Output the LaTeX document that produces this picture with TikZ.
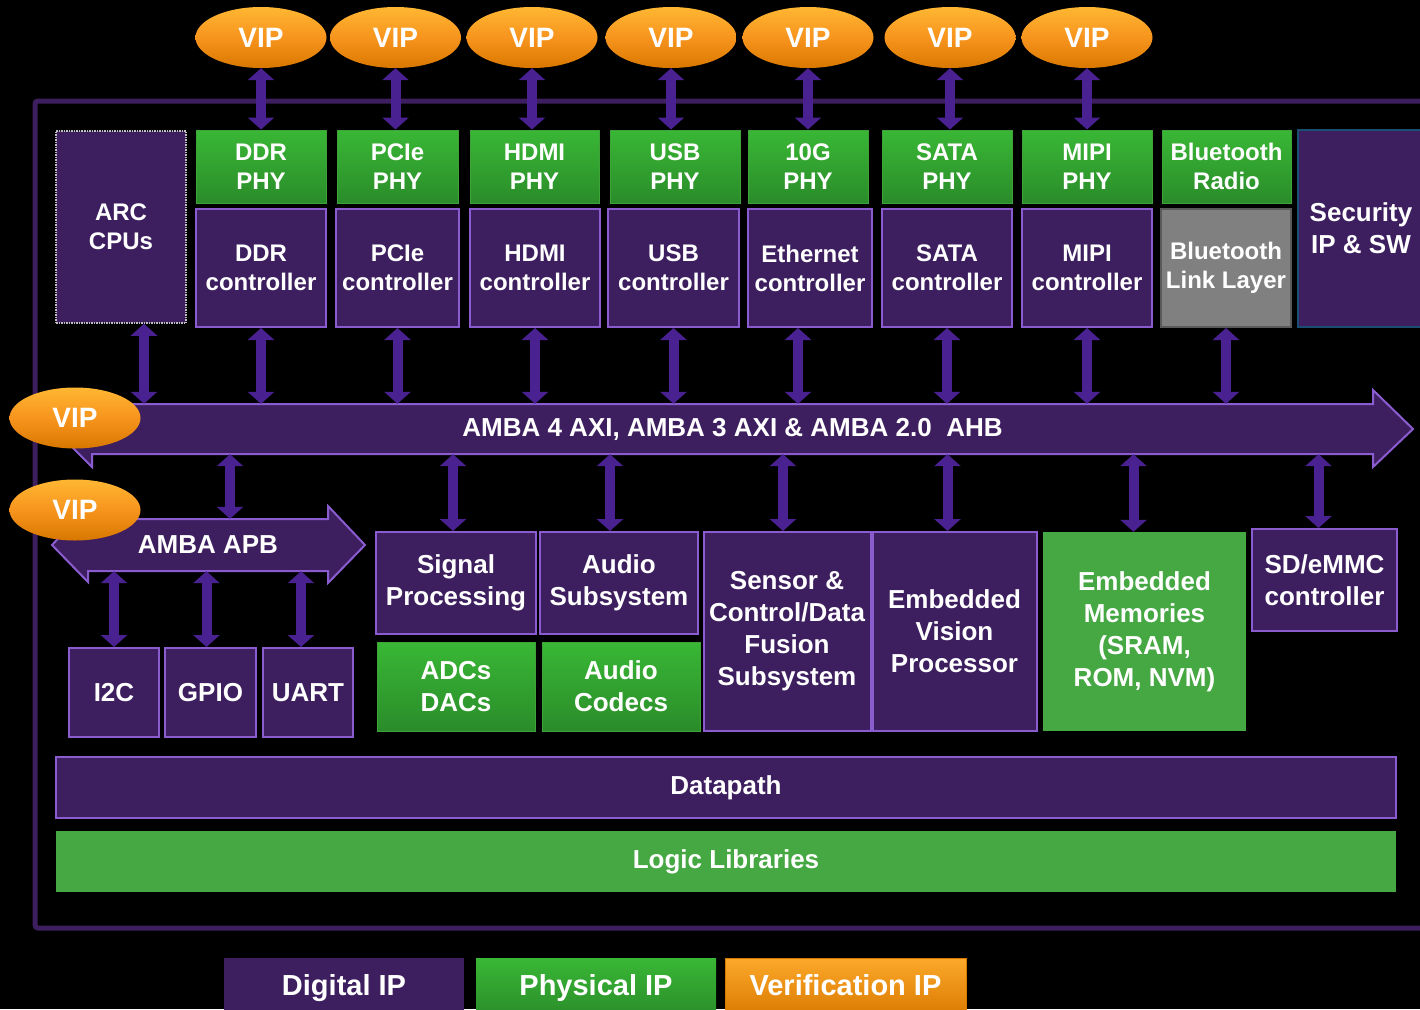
\documentclass[tikz,border=0pt]{standalone}
\usepackage{fontspec}
\setmainfont{Liberation Sans}
\usetikzlibrary{arrows.meta,shapes.geometric}
\definecolor{digfill}{HTML}{3D1F5F}
\definecolor{digline}{HTML}{8A5CD0}
\definecolor{arrowc}{HTML}{4A2190}
\definecolor{phytop}{HTML}{39B735}
\definecolor{phybot}{HTML}{2A8C2A}
\definecolor{phyline}{HTML}{3FA33A}
\definecolor{flatgreen}{HTML}{45A843}
\definecolor{viptop}{HTML}{FFB733}
\definecolor{vipmid}{HTML}{F7941D}
\definecolor{vipbot}{HTML}{D97800}
\definecolor{grayfill}{HTML}{808080}
\definecolor{grayline}{HTML}{5A5A5A}
\definecolor{secline}{HTML}{1B4F72}
\begin{document}
\begin{tikzpicture}[x=1pt,y=-1pt,
  every node/.style={inner sep=0pt, text=white, align=center, font=\bfseries\fontsize{24}{29}\selectfont},
  fbig/.style={font=\bfseries\fontsize{26}{32}\selectfont},
  fleg/.style={font=\bfseries\fontsize{29}{34}\selectfont, text height=21pt, text depth=6pt},
  dig/.style={draw=digline, line width=2pt, fill=digfill},
  phy/.style={draw=phyline, line width=1pt, top color=phytop, bottom color=phybot},
  flat/.style={fill=flatgreen},
  vip/.style={ellipse, minimum width=131pt, minimum height=61pt, top color=viptop, bottom color=vipbot, middle color=vipmid, font=\bfseries\fontsize{28}{32}\selectfont},
  busline/.style={draw=digline, line width=2pt, fill=digfill},
  biarrow/.style={draw=arrowc, line width=10pt, {Triangle[width=26pt,length=12pt]}-{Triangle[width=26pt,length=12pt]}}]
\fill[black] (0,0) rectangle (1420,1009);
\useasboundingbox (0,0) rectangle (1420,1009);
\draw[digfill, line width=5pt, rounded corners=3pt] (35,101) rectangle (1440,928);
\draw[busline] (92,404) -- (1373,404) -- (1373,390) -- (1413,429) -- (1373,467) -- (1373,454) -- (92,454) -- (92,467) -- (54,429) -- (92,391) -- cycle;
\draw[busline] (88,519) -- (328,519) -- (328,506) -- (365,545) -- (328,583) -- (328,571) -- (88,571) -- (88,582) -- (52,545) -- (88,507) -- cycle;
\node[fbig, minimum width=1281pt, minimum height=50pt] (bus) at (732.5,429) {AMBA 4 AXI, AMBA 3 AXI \& AMBA 2.0~\ AHB};
\node[fbig, minimum width=240pt, minimum height=52pt] (apb) at (208,545) {AMBA APB};
\node[fill=digfill, draw=white!75!black, densely dotted, line width=1.5pt, minimum width=130pt, minimum height=192pt] (arc) at (121,227) {ARC\\CPUs};
\node[phy, minimum width=130pt, minimum height=73pt] (ddrphy) at (261,166.5) {DDR\\PHY};
\node[phy, minimum width=121pt, minimum height=73pt] (pciephy) at (397.5,166.5) {PCIe\\PHY};
\node[phy, minimum width=129pt, minimum height=73pt] (hdmiphy) at (534.5,166.5) {HDMI\\PHY};
\node[phy, minimum width=130pt, minimum height=73pt] (usbphy) at (675,166.5) {USB\\PHY};
\node[phy, minimum width=120pt, minimum height=73pt] (tengphy) at (808,166.5) {10G\\PHY};
\node[phy, minimum width=130pt, minimum height=73pt] (sataphy) at (947,166.5) {SATA\\PHY};
\node[phy, minimum width=130pt, minimum height=73pt] (mipiphy) at (1087,166.5) {MIPI\\PHY};
\node[phy, minimum width=129pt, minimum height=73pt] (btradio) at (1226.5,166.5) {Bluetooth\\Radio};
\node[dig, minimum width=130pt, minimum height=118pt] (ddrctl) at (261,268) {DDR\\controller};
\node[dig, minimum width=123pt, minimum height=118pt] (pciectl) at (397.5,268) {PCIe\\controller};
\node[dig, minimum width=130pt, minimum height=118pt] (hdmictl) at (535,268) {HDMI\\controller};
\node[dig, minimum width=131pt, minimum height=118pt] (usbctl) at (673.5,268) {USB\\controller};
\node[dig, minimum width=124pt, minimum height=118pt] (ethctl) at (810,268) {Ethernet\\controller};
\node[dig, minimum width=130pt, minimum height=118pt] (satactl) at (947,268) {SATA\\controller};
\node[dig, minimum width=130pt, minimum height=118pt] (mipictl) at (1087,268) {MIPI\\controller};
\node[fill=grayfill, draw=grayline, line width=2pt, minimum width=130pt, minimum height=118pt] (btlink) at (1226,268) {Bluetooth\\Link Layer};
\node[fbig, fill=digfill, draw=secline, line width=2pt, minimum width=126pt, minimum height=197pt] (sec) at (1361,228.5) {Security\\IP \& SW};
\node[dig, fbig, minimum width=160pt, minimum height=102pt] (sigproc) at (456,583) {Signal\\Processing};
\node[dig, fbig, minimum width=158pt, minimum height=102pt] (audiosub) at (619,583) {Audio\\Subsystem};
\node[phy, fbig, minimum width=158pt, minimum height=89pt] (adc) at (456,686.5) {ADCs\\DACs};
\node[phy, fbig, minimum width=158pt, minimum height=89pt] (codec) at (621,686.5) {Audio\\Codecs};
\node[dig, fbig, minimum width=167pt, minimum height=199pt] (sensor) at (787,631.5) {Sensor \&\\Control/Data\\Fusion\\Subsystem};
\node[dig, fbig, minimum width=164pt, minimum height=199pt] (vision) at (954.5,631.5) {Embedded\\Vision\\Processor};
\node[flat, fbig, minimum width=203pt, minimum height=199pt] (mem) at (1144.5,631.5) {Embedded\\Memories\\(SRAM,\\ROM, NVM)};
\node[dig, fbig, minimum width=145pt, minimum height=102pt] (sdmmc) at (1324.5,580) {SD/eMMC\\controller};
\node[dig, fbig, minimum width=90pt, minimum height=89pt] (i2c) at (114,692.5) {I2C};
\node[dig, fbig, minimum width=91pt, minimum height=89pt] (gpio) at (210.5,692.5) {GPIO};
\node[dig, fbig, minimum width=90pt, minimum height=89pt] (uart) at (308,692.5) {UART};
\node[dig, fbig, minimum width=1340pt, minimum height=61pt] (datapath) at (726,787.5) {Datapath};
\node[flat, fbig, minimum width=1340pt, minimum height=61pt] (logic) at (726,861.5) {Logic Libraries};
\node[fill=digfill, fleg, minimum width=240pt, minimum height=60pt] (ldig) at (344,988) {Digital IP};
\node[top color=phytop, bottom color=phybot, fleg, minimum width=240pt, minimum height=60pt] (lphy) at (596,988) {Physical IP};
\node[draw=vipbot, top color=viptop!60!vipmid, bottom color=vipbot, fleg, minimum width=241pt, minimum height=60pt] (lver) at (845.5,988) {Verification IP};
\node[vip] (v1) at (261,37.5) {VIP};
\node[vip] (v2) at (395.5,37.5) {VIP};
\node[vip] (v3) at (532,37.5) {VIP};
\node[vip] (v4) at (671,37.5) {VIP};
\node[vip] (v5) at (808,37.5) {VIP};
\node[vip] (v6) at (950,37.5) {VIP};
\node[vip] (v7) at (1087,37.5) {VIP};
\draw[biarrow] (v1.south) -- (v1.south |- ddrphy.north);
\draw[biarrow] (v2.south) -- (v2.south |- pciephy.north);
\draw[biarrow] (v3.south) -- (v3.south |- hdmiphy.north);
\draw[biarrow] (v4.south) -- (v4.south |- usbphy.north);
\draw[biarrow] (v5.south) -- (v5.south |- tengphy.north);
\draw[biarrow] (v6.south) -- (v6.south |- sataphy.north);
\draw[biarrow] (v7.south) -- (v7.south |- mipiphy.north);
\draw[biarrow] ([xshift=23pt]arc.south) -- ([xshift=23pt]arc.south |- bus.north);
\draw[biarrow] (ddrctl.south) -- (ddrctl.south |- bus.north);
\draw[biarrow] (pciectl.south) -- (pciectl.south |- bus.north);
\draw[biarrow] (hdmictl.south) -- (hdmictl.south |- bus.north);
\draw[biarrow] (usbctl.south) -- (usbctl.south |- bus.north);
\draw[biarrow] ([xshift=-12pt]ethctl.south) -- ([xshift=-12pt]ethctl.south |- bus.north);
\draw[biarrow] (satactl.south) -- (satactl.south |- bus.north);
\draw[biarrow] (mipictl.south) -- (mipictl.south |- bus.north);
\draw[biarrow] (btlink.south) -- (btlink.south |- bus.north);
\draw[biarrow] ([xshift=22pt]apb.north) -- ([xshift=22pt]apb.north |- bus.south);
\draw[biarrow] ([xshift=-3pt]sigproc.north) -- ([xshift=-3pt]sigproc.north |- bus.south);
\draw[biarrow] ([xshift=-9pt]audiosub.north) -- ([xshift=-9pt]audiosub.north |- bus.south);
\draw[biarrow] ([xshift=-4pt]sensor.north) -- ([xshift=-4pt]sensor.north |- bus.south);
\draw[biarrow] ([xshift=-7pt]vision.north) -- ([xshift=-7pt]vision.north |- bus.south);
\draw[biarrow] ([xshift=-11pt]mem.north) -- ([xshift=-11pt]mem.north |- bus.south);
\draw[biarrow] ([xshift=-6pt]sdmmc.north) -- ([xshift=-6pt]sdmmc.north |- bus.south);
\draw[biarrow] (i2c.north) -- (i2c.north |- apb.south);
\draw[biarrow] ([xshift=-4pt]gpio.north) -- ([xshift=-4pt]gpio.north |- apb.south);
\draw[biarrow] ([xshift=-7pt]uart.north) -- ([xshift=-7pt]uart.north |- apb.south);
\node[vip] (vbus) at (75,418) {VIP};
\node[vip] (vapb) at (75,510) {VIP};
\end{tikzpicture}
\end{document}
